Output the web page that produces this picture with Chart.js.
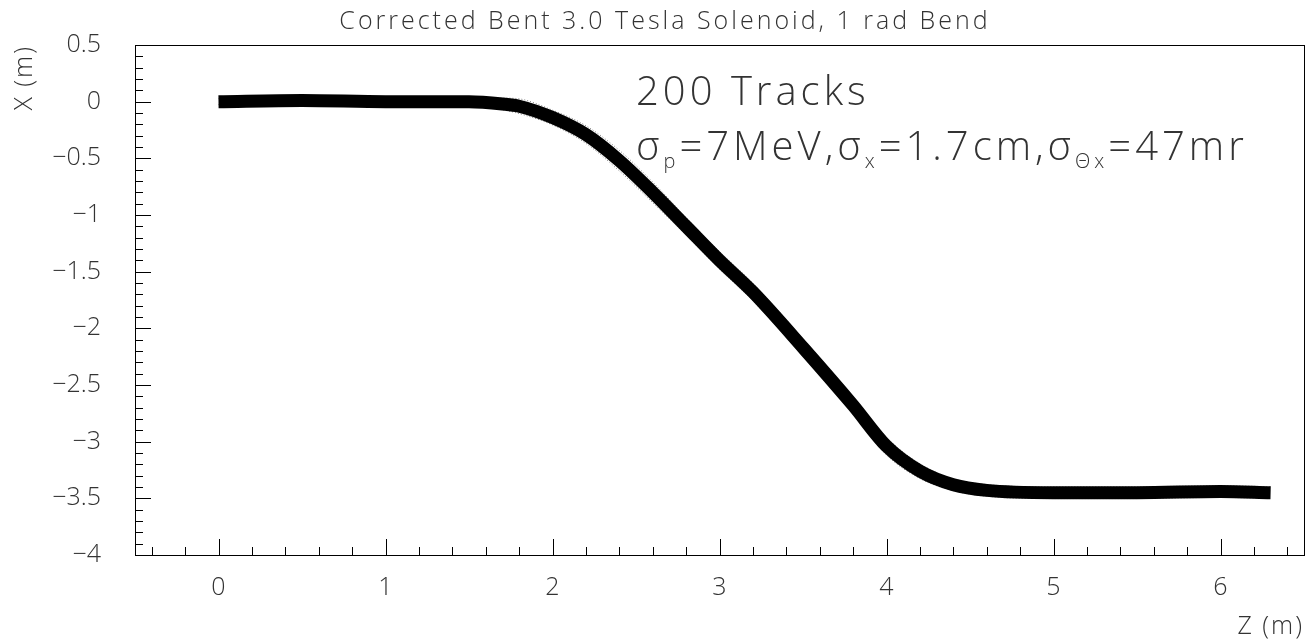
<!DOCTYPE html>
<html>
<head>
<meta charset="utf-8">
<script src="https://cdn.jsdelivr.net/npm/chart.js@4/dist/chart.umd.min.js"></script>
<style>
  html, body { margin: 0; padding: 0; background: #fff; }
  #wrap { width: 1310px; height: 644px; }
</style>
</head>
<body>
<div id="wrap"><canvas id="c"></canvas></div>
<script>
// Centre of the track bundle
const zPts = [0, 0.5, 1.0, 1.5, 1.7, 1.8, 2.0, 2.2, 2.4, 2.6, 2.8, 3.0, 3.2, 3.5, 3.8, 4.0, 4.2, 4.4, 4.6, 5.0, 5.5, 6.0, 6.3];
const xPts = [0, 0.01, 0, 0.0, -0.02, -0.04, -0.14, -0.29, -0.52, -0.80, -1.10, -1.40, -1.68, -2.17, -2.68, -3.04, -3.26, -3.38, -3.43, -3.45, -3.45, -3.44, -3.45];
// half-width of the bundle (m)
const spread = [0.02, 0.03, 0.03, 0.03, 0.04, 0.05, 0.05, 0.06, 0.07, 0.07, 0.06, 0.06, 0.06, 0.06, 0.06, 0.06, 0.05, 0.04, 0.04, 0.04, 0.04, 0.04, 0.04];

const title = 'Corrected Bent 3.0 Tesla Solenoid, 1 rad Bend';
const FONT = '"Open Sans", "DejaVu Sans", sans-serif';
const INK = '#333';

const mk = (off) => zPts.map((z, i) => ({ x: z, y: xPts[i] + off * spread[i] }));

const ticksPlugin = {
  id: 'rootTicks',
  afterDraw(chart) {
    const { ctx, chartArea: a, scales } = chart;
    ctx.save();
    ctx.strokeStyle = '#000';
    ctx.lineWidth = 1;
    ctx.strokeRect(a.left + 0.5, a.top + 0.5, a.right - a.left, a.bottom - a.top);
    ctx.beginPath();
    for (let i = -2; i <= 32; i++) {
      const v = i / 5;
      if (v < -0.5 || v > 6.5) continue;
      const px = Math.round(scales.x.getPixelForValue(v)) + 0.5;
      const len = i % 5 === 0 ? 16 : 8;
      ctx.moveTo(px, a.bottom); ctx.lineTo(px, a.bottom - len);
    }
    for (let i = -40; i <= 5; i++) {
      const v = i / 10;
      const py = Math.round(scales.y.getPixelForValue(v)) + 0.5;
      const len = i % 5 === 0 ? 16 : 8;
      ctx.moveTo(a.left, py); ctx.lineTo(a.left + len, py);
    }
    ctx.stroke();

    ctx.fillStyle = INK;
    ctx.letterSpacing = '3px';
    ctx.font = '300 25px ' + FONT;
    ctx.textAlign = 'center';
    ctx.textBaseline = 'alphabetic';
    ctx.fillText(title, 665, 29);
    ctx.letterSpacing = '2px';
    ctx.textAlign = 'right';
    ctx.fillText('Z (m)', 1304, 634);
    ctx.save();
    ctx.translate(32, 45);
    ctx.rotate(-Math.PI / 2);
    ctx.textAlign = 'right';
    ctx.fillText('X (m)', 0, 0);
    ctx.restore();

    // annotation
    ctx.textAlign = 'left';
    ctx.letterSpacing = '4px';
    ctx.font = '300 40px ' + FONT;
    ctx.fillText('200 Tracks', 636, 105);
    let x = 636; const base = 160;
    const seg = (t, size, dy) => { ctx.font = '300 ' + size + 'px ' + FONT; ctx.fillText(t, x, base + dy); x += ctx.measureText(t).width; };
    seg('σ', 40, 0); seg('p', 20, 8); seg('=7MeV,σ', 40, 0); seg('x', 20, 8);
    seg('=1.7cm,σ', 40, 0); seg('Θx', 20, 8); seg('=47mr', 40, 0);
    ctx.restore();
  }
};

const lab = v => String(Math.round(v * 10) / 10).replace('-', '\u2212');

new Chart(document.getElementById('c'), {
  type: 'scatter',
  data: {
    datasets: [
      { data: mk(0), showLine: true, borderColor: '#000', borderWidth: 13, pointRadius: 0, cubicInterpolationMode: 'monotone' },
      { data: mk(1.3), showLine: true, borderColor: 'rgba(0,0,0,0.5)', borderWidth: 1, borderDash: [1, 2], pointRadius: 0, cubicInterpolationMode: 'monotone' },
      { data: mk(-1.3), showLine: true, borderColor: 'rgba(0,0,0,0.5)', borderWidth: 1, borderDash: [1, 2], pointRadius: 0, cubicInterpolationMode: 'monotone' }
    ]
  },
  options: {
    responsive: true,
    maintainAspectRatio: false,
    animation: false,
    layout: { padding: { top: 45, right: 6 } },
    plugins: { legend: { display: false }, tooltip: { enabled: false } },
    scales: {
      x: {
        type: 'linear', min: -0.5, max: 6.5,
        afterFit: s => { s.height = 89; },
        afterBuildTicks: s => { s.ticks = [0, 1, 2, 3, 4, 5, 6].map(v => ({ value: v })); },
        grid: { display: false }, border: { display: false },
        ticks: { color: INK, font: { size: 25, family: FONT, weight: 300 }, padding: 10, callback: lab, maxRotation: 0 }
      },
      y: {
        type: 'linear', min: -4, max: 0.5,
        afterFit: s => { s.width = 135; },
        afterBuildTicks: s => { s.ticks = [-4, -3.5, -3, -2.5, -2, -1.5, -1, -0.5, 0, 0.5].map(v => ({ value: v })); },
        grid: { display: false }, border: { display: false },
        ticks: { color: INK, font: { size: 25, family: FONT, weight: 300 }, padding: 26, callback: lab }
      }
    }
  },
  plugins: [ticksPlugin]
});
</script>
</body>
</html>
